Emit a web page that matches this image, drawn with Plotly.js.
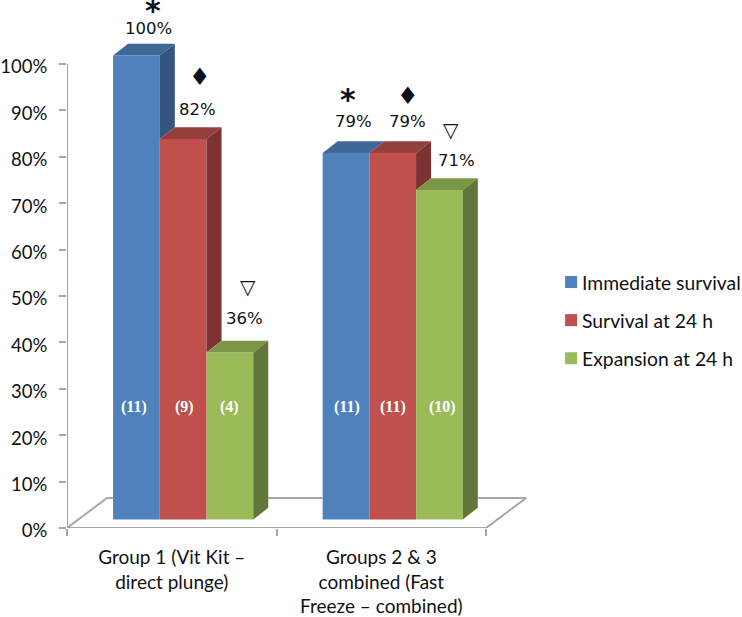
<!DOCTYPE html>
<html><head><meta charset="utf-8">
<script src="https://cdn.plot.ly/plotly-3.0.1.min.js"></script>
<style>html,body{margin:0;padding:0;background:#fff}#c{width:742px;height:617px}</style>
</head><body><div id="c"></div>
<script>
// ---- data ----
const categories = ["Group 1 (Vit Kit \u2013<br>direct plunge)", "Groups 2 & 3<br>combined (Fast<br>Freeze \u2013 combined)"];
const seriesNames = ["Immediate survival", "Survival at 24 h", "Expansion at 24 h"];
const immediate = [100, 79];
const survival24 = [82, 79];
const expansion24 = [36, 71];
const nImmediate = ["(11)", "(11)"];
const nSurvival = ["(9)", "(11)"];
const nExpansion = ["(4)", "(10)"];
const pctImmediate = ["100%", "79%"];
const pctSurvival = ["82%", "79%"];
const pctExpansion = ["36%", "71%"];
const markImmediate = ["*", "*"];
const markSurvival = ["\u2666", "\u2666"];
const markExpansion = ["\u25BD", "\u25BD"];

// ---- styling ----
const front = ["#4F81BD", "#C0504D", "#9BBB59"];
const topFace = ["#3F6797", "#953F3D", "#7C9647"];
const sideFace = ["#34557F", "#7B3230", "#63763A"];
const axisCol = "#a6a6a6";
const pxX = 209.5, pxY = 4.64;          // pixels per category / per percent
const barW = 46.7 / pxX;
const offsets = [-0.28, -0.057, 0.166];
const base3d = 1.83;                    // front plane of the bars above the floor edge
const dX = 15 / pxX, dY = 11.8 / pxY;   // bar depth
const fX = 40 / pxX, fY = 30 / pxY;     // floor depth
const vals = [immediate, survival24, expansion24];

const traces = [];
const poly = (x, y, color) => traces.push({type:"scatter", mode:"lines", x, y, fill:"toself",
  fillcolor:color, line:{width:0, color:color}, hoverinfo:"skip", showlegend:false});

// axis lines and floor; the back edge is broken where the bars stand in front of it
const grpL = c => c + offsets[0], grpR = c => c + offsets[2] + barW + dX;
traces.push({type:"scatter", mode:"lines", x:[-0.5,-0.5], y:[100,0], line:{color:axisCol,width:2}, hoverinfo:"skip", showlegend:false});
traces.push({type:"scatter", mode:"lines", x:[grpL(0),-0.5+fX,-0.5,1.5,1.5+fX,grpR(1)], y:[fY,fY,0,0,fY,fY], line:{color:axisCol,width:2}, hoverinfo:"skip", showlegend:false});
traces.push({type:"scatter", mode:"lines", x:[grpR(0),grpL(1)], y:[fY,fY], line:{color:axisCol,width:2}, hoverinfo:"skip", showlegend:false});
// hidden trace that brings the tick-mark axis to life
traces.push({type:"scatter", mode:"none", x:[0], y:[0], xaxis:"x2", hoverinfo:"skip", showlegend:false});

// front faces
vals.forEach((v, s) => traces.push({type:"bar", name:seriesNames[s], x:[0,1], y:v, base:[base3d,base3d],
  width:barW, offset:offsets[s], marker:{color:front[s], line:{width:0}}, legendgroup:"g"+s}));

// top and side faces
vals.forEach((v, s) => v.forEach((val, c) => {
  const x0 = c + offsets[s], x1 = x0 + barW, t = val + base3d;
  poly([x0, x0+dX, x1+dX, x1, x0], [t, t+dY, t+dY, t, t], topFace[s]);
  const next = s < 2 ? vals[s+1][c] + base3d : base3d;
  if (next < t) poly([x1, x1+dX, x1+dX, x1, x1], [t, t+dY, next+dY, next, t], sideFace[s]);
}));

// ---- text ----
const ann = [];
const n = [nImmediate, nSurvival, nExpansion];
const pct = [pctImmediate, pctSurvival, pctExpansion];
const mark = [markImmediate, markSurvival, markExpansion];
const pctShift = [[[12,27],[7,31]], [[14,30],[15,31]], [[15,34],[17,30]]];
const markShift = [[[17,45],[2,53]], [[17,62],[15,57]], [[18,65],[12,60]]];
const nShiftS = [[-2,1], [1,0], [0,3]];
const markFont = ["DejaVu Sans", "DejaVu Sans", "DejaVu Sans"];
const markSize = [30, 24, 20];
vals.forEach((v, s) => v.forEach((val, c) => {
  const xc = c + offsets[s] + barW/2, t = val + base3d;
  ann.push({x:xc, y:t, text:pct[s][c], showarrow:false, xshift:pctShift[s][c][0], yshift:pctShift[s][c][1],
    font:{family:"DejaVu Sans", size:16.5, color:"#111"}});
  ann.push({x:xc, y:t, text:s===0 ? "<b>"+mark[s][c]+"</b>" : mark[s][c], showarrow:false, xshift:markShift[s][c][0], yshift:markShift[s][c][1],
    font:{family:markFont[s], size:markSize[s], color:"#0c1020"}});
  ann.push({x:xc, y:26, text:"<b>"+n[s][c]+"</b>", showarrow:false, xshift:nShiftS[s][c],
    font:{family:"Liberation Serif", size:16, color:"#fff"}});
}));

const range = [-0.5, 1.7];
const layout = {
  width:742, height:617, paper_bgcolor:"#fff", plot_bgcolor:"rgba(0,0,0,0)",
  margin:{l:67, r:742-67-2.2*pxX, t:0, b:89, autoexpand:false},
  barmode:"overlay", showlegend:true,
  font:{family:"Lato", color:"#111"},
  xaxis:{type:"linear", range, tickmode:"array", tickvals:[0,1], ticktext:categories,
    ticks:"", showgrid:false, zeroline:false, showline:false, tickfont:{family:"Lato", size:19, color:"#111"},
    ticklabelstandoff:16, fixedrange:true},
  xaxis2:{type:"linear", overlaying:"x", anchor:"y", side:"bottom", range, tickmode:"array", tickvals:[-0.5,0.5,1.5],
    ticks:"outside", ticklen:7, tickwidth:2, tickcolor:axisCol, showticklabels:false, showgrid:false, zeroline:false, showline:false},
  yaxis:{range:[0, 528/pxY], tickmode:"array", tickvals:[0,10,20,30,40,50,60,70,80,90,100], ticktext:[0,10,20,30,40,50,60,70,80,90,100].map(v=>v+"%"),
    ticks:"outside", ticklen:7, tickwidth:2, tickcolor:axisCol, showgrid:false, zeroline:false, showline:false,
    tickfont:{family:"Lato", size:18.5, color:"#111"}, ticklabelstandoff:8, ticklabelshift:3},
  legend:{x:(542-67)/(2.2*pxX), y:(617-89-263)/528, xanchor:"left", yanchor:"top", font:{family:"Lato", size:19.3, color:"#111"},
    tracegroupgap:10, bgcolor:"rgba(0,0,0,0)", traceorder:"grouped"},
  annotations:ann
};
Plotly.newPlot("c", traces, layout, {displayModeBar:false, staticPlot:true}).then(() => {
  // bring the colour keys closer to their texts, as in the reference
  document.querySelectorAll(".legend .legendpoints").forEach(g => g.setAttribute("transform", "translate(9,0)"));
});
</script></body></html>
